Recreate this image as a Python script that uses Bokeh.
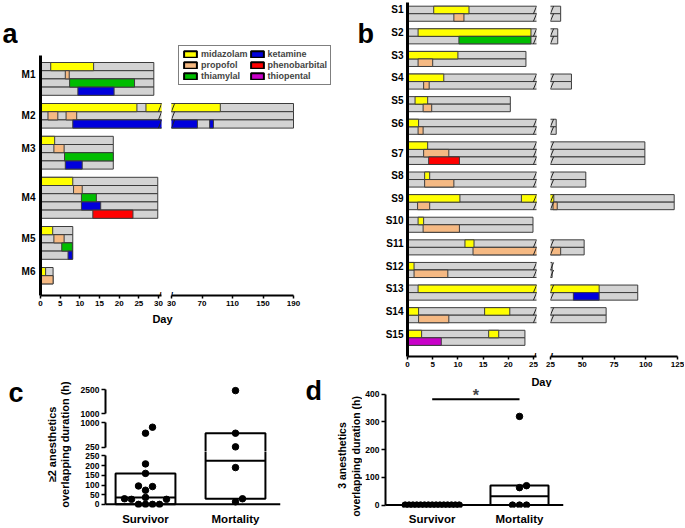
import math
from bokeh.plotting import figure
from bokeh.models import Range1d, FixedTicker, Label, Legend, LegendItem
from bokeh.layouts import row, column
from bokeh.embed import file_html
from bokeh.resources import INLINE

FONT = "Liberation Sans"
GREY = "#D3D3D3"
EDGE = "#3C3C3C"

# ---------------------------------------------------------------- data
drugs = ["midazolam", "propofol", "thiamylal", "ketamine", "phenobarbital", "thiopental"]
drug_colors = ["#FFFF00", "#F5B983", "#00BD00", "#0000DC", "#FF0000", "#C800C8"]

# panel a (mortality cases), days
a_patients = ["M1", "M2", "M3", "M4", "M5", "M6"]
a_total_days = [28.8, 190.0, 18.5, 29.8, 8.2, 3.2]
a_rows = [
    ["midazolam", "propofol", "thiamylal", "ketamine"],
    ["midazolam", "propofol", "ketamine"],
    ["midazolam", "propofol", "thiamylal", "ketamine"],
    ["midazolam", "propofol", "thiamylal", "ketamine", "phenobarbital"],
    ["midazolam", "propofol", "thiamylal", "ketamine"],
    ["midazolam", "propofol"],
]
a_uses = [
    ("M1", "midazolam", 2.6, 13.5), ("M1", "propofol", 6.3, 7.3),
    ("M1", "thiamylal", 7.4, 23.9), ("M1", "ketamine", 9.5, 18.7),
    ("M2", "midazolam", 0.0, 24.5), ("M2", "midazolam", 26.8, 94.0),
    ("M2", "propofol", 1.9, 4.4), ("M2", "propofol", 6.5, 9.2),
    ("M2", "ketamine", 8.2, 64.0), ("M2", "ketamine", 80.0, 85.0),
    ("M3", "midazolam", 0.0, 3.6), ("M3", "propofol", 3.4, 6.0),
    ("M3", "thiamylal", 6.1, 18.5), ("M3", "ketamine", 6.3, 10.6),
    ("M4", "midazolam", 0.0, 8.2), ("M4", "propofol", 8.4, 10.6),
    ("M4", "thiamylal", 10.4, 14.2), ("M4", "ketamine", 10.4, 15.3),
    ("M4", "phenobarbital", 13.3, 23.5),
    ("M5", "midazolam", 0.0, 3.1), ("M5", "propofol", 3.4, 6.0),
    ("M5", "thiamylal", 5.4, 8.1), ("M5", "ketamine", 7.0, 8.1),
    ("M6", "midazolam", 0.0, 1.3), ("M6", "propofol", 0.0, 3.2),
]
a_ticks_left = [0, 5, 10, 15, 20, 25, 30]
a_ticks_right = [30, 70, 110, 150, 190]

# panel b (survivors), days
b_patients = ["S1", "S2", "S3", "S4", "S5", "S6", "S7", "S8", "S9", "S10",
              "S11", "S12", "S13", "S14", "S15"]
b_total_days = [33.0, 30.7, 23.5, 41.5, 20.4, 29.5, 99.3, 52.8, 122.4, 24.9,
                51.5, 26.3, 93.7, 68.8, 23.3]
b_rows = [
    ["midazolam", "propofol"], ["midazolam", "thiamylal"], ["midazolam", "propofol"],
    ["midazolam", "propofol"], ["midazolam", "propofol"], ["midazolam", "propofol"],
    ["midazolam", "propofol", "phenobarbital"], ["midazolam", "propofol"],
    ["midazolam", "propofol"], ["midazolam", "propofol"], ["midazolam", "propofol"],
    ["midazolam", "propofol"], ["midazolam", "ketamine"], ["midazolam", "propofol"],
    ["midazolam", "thiopental"],
]
b_uses = [
    ("S1", "midazolam", 5.2, 12.2), ("S1", "propofol", 9.2, 11.2),
    ("S2", "midazolam", 2.1, 24.5), ("S2", "thiamylal", 10.2, 24.5),
    ("S3", "midazolam", 0.0, 10.0), ("S3", "propofol", 2.1, 5.0),
    ("S4", "midazolam", 0.0, 7.2), ("S4", "propofol", 3.2, 4.3),
    ("S5", "midazolam", 1.5, 4.0), ("S5", "propofol", 3.1, 4.8),
    ("S6", "midazolam", 0.0, 2.2), ("S6", "propofol", 2.1, 3.1),
    ("S7", "midazolam", 0.0, 4.0), ("S7", "propofol", 3.2, 8.2),
    ("S7", "phenobarbital", 4.2, 10.3),
    ("S8", "midazolam", 3.4, 4.4), ("S8", "propofol", 3.4, 9.2),
    ("S9", "midazolam", 0.0, 10.4), ("S9", "midazolam", 22.6, 27.6),
    ("S9", "propofol", 2.0, 4.4), ("S9", "propofol", 27.0, 30.3),
    ("S10", "midazolam", 2.1, 3.2), ("S10", "propofol", 3.1, 10.3),
    ("S11", "midazolam", 11.4, 13.2), ("S11", "propofol", 13.0, 33.0),
    ("S12", "midazolam", 0.0, 1.3), ("S12", "propofol", 1.3, 8.0),
    ("S13", "midazolam", 2.1, 63.3), ("S13", "ketamine", 43.0, 63.3),
    ("S14", "midazolam", 0.0, 2.2), ("S14", "midazolam", 15.3, 20.3),
    ("S14", "propofol", 2.2, 8.2),
    ("S15", "midazolam", 0.0, 2.8), ("S15", "midazolam", 16.1, 18.1),
    ("S15", "thiopental", 0.0, 6.7),
]
b_ticks_left = [0, 5, 10, 15, 20, 25]
b_ticks_right = [25, 50, 75, 100, 125]

# panel c: >=2 anesthetics overlapping duration (h)
groups = ["Survivor", "Mortality"]
c_survivor = [857, 675, 209, 160, 95, 92, 73, 36, 29, 26, 26, 0, 0, 0, 0]
c_mortality = [2430, 675, 260, 190, 29, 13]
c_box_low = [0, 29]
c_box_median = [36, 225]
c_box_high = [160, 675]
c_ticks_top = [1000, 2500]
c_ticks_mid = [250, 1000]
c_ticks_bot = [0, 50, 100, 150, 200, 250]

# panel d: 3 anesthetics overlapping duration (h)
d_survivor = [0, 0, 0, 0, 0, 0, 0, 0, 0, 0, 0, 0, 0, 0, 0]
d_mortality = [320, 70, 63, 0, 0, 0]
d_box_low = [0, 0]
d_box_median = [0, 32]
d_box_high = [0, 71]
d_ticks = [0, 100, 200, 300, 400]
d_sig_y = 382
d_star_y = 364

# ---------------------------------------------------------------- helpers
def lin(anchor):
    (v0, p0), (v1, p1) = anchor
    k = (v1 - v0) / (p1 - p0)
    return lambda p: v0 + (p - p0) * k


def to_px(anchor, v):
    (v0, p0), (v1, p1) = anchor
    return p0 + (v - v0) * (p1 - p0) / (v1 - v0)


def xr(anchor, left, right):
    f = lin(anchor)
    return Range1d(f(left), f(right))


def yr(anchor, top, bottom):
    f = lin(anchor)
    return Range1d(f(bottom), f(top))


def mkfig(canvas, frame, x_range, y_range, xaxis=True, yaxis=True):
    x0, x1, y0, y1 = canvas
    l, r, t, b = frame
    p = figure(width=x1 - x0, height=y1 - y0, x_range=x_range, y_range=y_range,
               min_border_left=l - x0, min_border_right=x1 - r,
               min_border_top=t - y0, min_border_bottom=y1 - b,
               toolbar_location=None, output_backend="svg",
               x_axis_type="linear" if xaxis else None,
               y_axis_type="linear" if yaxis else None)
    p.outline_line_color = None
    p.grid.visible = False
    return p


def blank(x0, x1, y0, y1):
    p = figure(width=x1 - x0, height=y1 - y0, x_range=Range1d(x0, x1),
               y_range=Range1d(y1, y0), min_border=0, toolbar_location=None,
               output_backend="svg", x_axis_type=None, y_axis_type=None)
    p.outline_line_color = None
    return p


def txt(p, x, y, text, size, align="left", baseline="alphabetic", angle=0.0):
    p.add_layout(Label(x=x, y=y, text=text, text_font=FONT, text_font_style="bold",
                       text_font_size=size, text_align=align, text_baseline=baseline,
                       angle=angle, text_color="black"))


def style_axis(ax, size, line_width=2, tick_out=3, standoff=2):
    ax.axis_line_color = "black"
    ax.axis_line_width = line_width
    ax.major_tick_line_color = "black"
    ax.major_tick_line_width = 1.5
    ax.major_tick_in = 0
    ax.major_tick_out = tick_out
    ax.minor_tick_line_color = None
    ax.major_label_text_font = FONT
    ax.major_label_text_font_style = "bold"
    ax.major_label_text_font_size = size
    ax.major_label_text_color = "black"
    ax.major_label_standoff = standoff


def build_bars(patients, totals, rows, uses):
    starts, y = {}, 0
    for pat, r in zip(patients, rows):
        starts[pat] = y
        y += len(r) + 1
    label_pos = [starts[pat] + (len(r) - 1) // 2 + 0.5 for pat, r in zip(patients, rows)]
    bg = dict(left=[], right=[], top=[], bottom=[])
    for pat, r, tot in zip(patients, rows, totals):
        for k in range(len(r)):
            bg["left"].append(0)
            bg["right"].append(tot)
            bg["top"].append(starts[pat] + k)
            bg["bottom"].append(starts[pat] + k + 1)
    per = {d: dict(left=[], right=[], top=[], bottom=[]) for d in drugs}
    for pat, d, s, e in uses:
        k = rows[patients.index(pat)].index(d)
        per[d]["left"].append(s)
        per[d]["right"].append(e)
        per[d]["top"].append(starts[pat] + k)
        per[d]["bottom"].append(starts[pat] + k + 1)
    return label_pos, bg, per


def keep(src, min_right):
    idx = [i for i, r in enumerate(src["right"]) if r > min_right]
    return {k: [v[i] for i in idx] for k, v in src.items()}


def draw_bars(p, bg, per, min_right=-1e9):
    g = keep(bg, min_right)
    p.quad(left=g["left"], right=g["right"], top=g["top"], bottom=g["bottom"],
           fill_color=GREY, line_color=EDGE, line_width=1)
    for d, col in zip(drugs, drug_colors):
        s = keep(per[d], min_right)
        if s["left"]:
            p.quad(left=s["left"], right=s["right"], top=s["top"], bottom=s["bottom"],
                   fill_color=col, line_color=EDGE, line_width=1)


def bar_breaks(p, bg, brk, at_px, px_per_unit):
    # slanted marks where bars run into the axis break
    g = keep(bg, brk)
    xc = at_px / px_per_unit
    dx = 1.6 / px_per_unit
    p.segment(x0=[xc - dx] * len(g["top"]), x1=[xc + dx] * len(g["top"]),
              y0=g["bottom"], y1=g["top"], line_color="#222222", line_width=1)


def break_mark(p, x):
    # small slash on the x axis where the axis is broken
    p.add_layout(Label(x=x, y=p.y_range.start, text="/", text_font=FONT,
                       text_font_style="bold", text_font_size="11px",
                       text_align="center", text_baseline="middle", text_color="black"))


def swarm(values, px_of, step=7.0, max_half=27.0):
    order = sorted(range(len(values)), key=lambda i: values[i])
    placed, off = [], [0.0] * len(values)
    for i in order:
        py = px_of(values[i])
        m = 0
        while True:
            cand = 0.0 if m == 0 else math.ceil(m / 2) * step * (1 if m % 2 else -1)
            if all((cand - qx) ** 2 + (py - qy) ** 2 >= step * step - 1e-6 for qx, qy in placed):
                break
            m += 1
        placed.append((cand, py))
        off[i] = cand
    w = max(abs(o) for o in off)
    if w > max_half:
        off = [o * max_half / w for o in off]
    return off

# ---------------------------------------------------------------- panel a
a_y_anchor = ((0, 62), (28, 291.6))
a1_x_anchor = ((0, 38), (30, 158))
a2_x_anchor = ((30, 171), (190, 293))
a_lab, a_bg, a_per = build_bars(a_patients, a_total_days, a_rows, a_uses)
b_lab, b_bg, b_per = build_bars(b_patients, b_total_days, b_rows, b_uses)

a_left = blank(0, 18, 0, 309)
txt(a_left, 2, 33, "a", "27px")
a1 = mkfig((18, 165, 0, 309), (38, 161, 55, 295),
           xr(a1_x_anchor, 38, 161), yr(a_y_anchor, 55, 295))
a2 = mkfig((165, 348, 0, 309), (171, 345, 40, 295),
           xr(a2_x_anchor, 171, 345), yr(a_y_anchor, 40, 295), yaxis=False)
draw_bars(a1, a_bg, a_per)
draw_bars(a2, a_bg, a_per, min_right=a_ticks_right[0])
a1_ppu = 120 / 30
a2_ppu = 122 / 160
a1.segment  # noqa
bar_breaks(a1, a_bg, a_ticks_right[0], (a1.x_range.end * a1_ppu) - 1.5, a1_ppu)
bar_breaks(a2, a_bg, a_ticks_right[0], a_ticks_right[0] * a2_ppu + 1.5, a2_ppu)
style_axis(a1.xaxis[0], "8px")
a1.xaxis.ticker = FixedTicker(ticks=a_ticks_left)
style_axis(a2.xaxis[0], "8px")
a2.xaxis.ticker = FixedTicker(ticks=a_ticks_right)
a2.xaxis.bounds = (a_ticks_right[0], a_ticks_right[-1])
style_axis(a1.yaxis[0], "10px", line_width=3, tick_out=0, standoff=5)
a1.yaxis.ticker = FixedTicker(ticks=a_lab)
a1.yaxis.major_label_overrides = {v: n for v, n in zip(a_lab, a_patients)}
a1.yaxis.major_tick_line_color = None
break_mark(a1, a1.x_range.end - 0.3)
break_mark(a2, a_ticks_right[0])

items = []
for d, col in zip(drugs, drug_colors):
    src = a_per[d] if a_per[d]["left"] else b_per[d]
    r = a2.quad(left=src["left"], right=src["right"], top=src["top"], bottom=src["bottom"],
                fill_color=col, line_color="black", line_width=2, visible=False)
    items.append(LegendItem(label=d, renderers=[r]))
legend = Legend(items=items, location=(7, 210), orientation="vertical", nrows=3,
                margin=0, padding=3, spacing=1, label_standoff=3,
                glyph_width=16, glyph_height=8, label_height=9,
                label_text_font=FONT, label_text_font_style="bold",
                label_text_font_size="9px", border_line_color="black",
                border_line_width=1.5, background_fill_color="white",
                background_fill_alpha=1.0)
a2.add_layout(legend)

a_day = blank(0, 348, 309, 362)
txt(a_day, 162, 318, "Day", "11px", align="center")

# ---------------------------------------------------------------- panel b
b_y_anchor = ((0, 5.7), (43, 330.7))
b1_x_anchor = ((0, 407), (25, 533))
b2_x_anchor = ((25, 550), (125, 677))

b1 = mkfig((380, 542, 0, 369), (407, 536, 2, 357),
           xr(b1_x_anchor, 407, 536), yr(b_y_anchor, 2, 357))
b2 = mkfig((542, 684, 0, 369), (550, 678, 2, 357),
           xr(b2_x_anchor, 550, 678), yr(b_y_anchor, 2, 357), yaxis=False)
draw_bars(b1, b_bg, b_per)
draw_bars(b2, b_bg, b_per, min_right=b_ticks_right[0])
b1_ppu = 126 / 25
b2_ppu = 127 / 100
bar_breaks(b1, b_bg, b_ticks_right[0], (b1.x_range.end * b1_ppu) - 1.5, b1_ppu)
bar_breaks(b2, b_bg, b_ticks_right[0], b_ticks_right[0] * b2_ppu + 1.5, b2_ppu)
style_axis(b1.xaxis[0], "8px")
b1.xaxis.ticker = FixedTicker(ticks=b_ticks_left)
style_axis(b2.xaxis[0], "8px")
b2.xaxis.ticker = FixedTicker(ticks=b_ticks_right)
b2.xaxis.bounds = (b_ticks_right[0], b_ticks_right[-1])
style_axis(b1.yaxis[0], "10px", line_width=3, tick_out=0, standoff=4)
b1.yaxis.ticker = FixedTicker(ticks=b_lab)
b1.yaxis.major_label_overrides = {v: n for v, n in zip(b_lab, b_patients)}
b1.yaxis.major_tick_line_color = None
break_mark(b1, b1.x_range.end - 0.3)
break_mark(b2, b_ticks_right[0] + 0.8)

b_left = blank(348, 380, 0, 369)
txt(b_left, 357, 33, "b", "27px")
b_day = blank(348, 684, 369, 387)
txt(b_day, 541, 381, "Day", "11px", align="center")

# ---------------------------------------------------------------- panel c
c_x_anchor = ((0, 145), (1, 235))
c_seg_anchor = [((1000, 413), (2500, 389)), ((250, 446.7), (1000, 422)),
                ((0, 506.7), (250, 455.7))]
c_seg_bounds = [(1000, 2500), (250, 1000), (0, 250)]
c_seg_ticks = [c_ticks_top, c_ticks_mid, c_ticks_bot]
c_canvas = [(72, 290, 362, 418), (72, 290, 418, 451), (72, 290, 451, 527)]
c_frame = [(105, 280, 384, 418), (105, 280, 418, 451), (105, 280, 451, 510)]
BOX_W = 0.665


def c_seg_of(v):
    return 0 if v > 1000 else (1 if v > 250 else 2)


def c_px(v):
    return to_px(c_seg_anchor[c_seg_of(v)], v)


c_px_per_x = (c_x_anchor[1][1] - c_x_anchor[0][1]) / (c_x_anchor[1][0] - c_x_anchor[0][0])
c_vals = [c_survivor, c_mortality]
c_xs = []
for gi, vals in enumerate(c_vals):
    offs = swarm(vals, c_px)
    c_xs.append([gi + o / c_px_per_x for o in offs])

c_figs = []
for si in range(3):
    last = si == 2
    fl, fr, ft, fb = c_frame[si]
    p = mkfig(c_canvas[si], c_frame[si], xr(c_x_anchor, fl, fr),
              yr(c_seg_anchor[si], ft, fb), xaxis=last)
    lo, hi = c_seg_bounds[si]
    rs, re = p.y_range.start, p.y_range.end
    span = re - rs
    for gi in range(2):
        bl, bm, bh = c_box_low[gi], c_box_median[gi], c_box_high[gi]
        if not (bh < lo or bl > hi):
            bot = bl if bl >= lo else rs - span
            top = bh if bh <= hi else re + span
            p.quad(left=[gi - BOX_W / 2], right=[gi + BOX_W / 2], bottom=[bot], top=[top],
                   fill_color="white", line_color="black", line_width=2)
        if lo <= bm <= hi:
            p.segment(x0=[gi - BOX_W / 2], x1=[gi + BOX_W / 2], y0=[bm], y1=[bm],
                      line_color="black", line_width=2)
    if last:
        p.segment(x0=[p.x_range.start], x1=[p.x_range.end], y0=[0], y1=[0],
                  line_color="black", line_width=2)
    for gi in range(2):
        xs = [x for x, v in zip(c_xs[gi], c_vals[gi]) if c_seg_of(v) == si]
        ys = [v for v in c_vals[gi] if c_seg_of(v) == si]
        if xs:
            p.scatter(xs, ys, size=6.5, color="black")
    style_axis(p.yaxis[0], "8.5px", tick_out=4, standoff=2)
    p.yaxis.ticker = FixedTicker(ticks=c_seg_ticks[si])
    p.yaxis.bounds = c_seg_bounds[si]
    if last:
        style_axis(p.xaxis[0], "11.5px", standoff=2)
        p.xaxis.ticker = FixedTicker(ticks=[0, 1])
        p.xaxis.major_label_overrides = {0: groups[0], 1: groups[1]}
        p.xaxis.major_tick_line_color = None
        p.xaxis.axis_line_color = None
    c_figs.append(p)

c_left = blank(0, 72, 362, 527)
txt(c_left, 8, 392, "c", "27px")
txt(c_left, 51, 444, "\u22652 anesthetics", "11px", align="center", baseline="middle",
    angle=math.pi / 2)
txt(c_left, 64, 444, "overlapping duration (h)", "11px", align="center", baseline="middle",
    angle=math.pi / 2)
c_right = blank(290, 348, 362, 527)
txt(c_right, 305, 390, "d", "27px")
txt(c_right, 341, 455, "3 anesthetics", "10.5px", align="center", baseline="middle",
    angle=math.pi / 2)

# ---------------------------------------------------------------- panel d
d_x_anchor = ((0, 431.7), (1, 519))
d_y_anchor = ((0, 509.5), (400, 394))
d_fig = mkfig((362, 684, 387, 527), (385, 563, 387, 512),
              xr(d_x_anchor, 385, 563), yr(d_y_anchor, 387, 512))
d_px_per_x = (d_x_anchor[1][1] - d_x_anchor[0][1]) / (d_x_anchor[1][0] - d_x_anchor[0][0])
d_vals = [d_survivor, d_mortality]
for gi in range(2):
    d_fig.quad(left=[gi - BOX_W / 2], right=[gi + BOX_W / 2], bottom=[d_box_low[gi]],
               top=[d_box_high[gi]], fill_color="white", line_color="black", line_width=2)
    d_fig.segment(x0=[gi - BOX_W / 2], x1=[gi + BOX_W / 2], y0=[d_box_median[gi]],
                  y1=[d_box_median[gi]], line_color="black", line_width=2)
d_fig.segment(x0=[d_fig.x_range.start], x1=[d_fig.x_range.end], y0=[0], y1=[0],
              line_color="black", line_width=2)
for gi, vals in enumerate(d_vals):
    offs = swarm(vals, lambda v: to_px(d_y_anchor, v))
    d_fig.scatter([gi + o / d_px_per_x for o in offs], vals, size=6.5, color="black")
d_fig.segment(x0=[0], x1=[1], y0=[d_sig_y], y1=[d_sig_y], line_color="black", line_width=2)
d_fig.add_layout(Label(x=0.5, y=d_star_y, text="*", text_font=FONT, text_font_style="bold",
                       text_font_size="16px", text_align="center"))
style_axis(d_fig.yaxis[0], "8.5px", tick_out=4, standoff=2)
d_fig.yaxis.ticker = FixedTicker(ticks=d_ticks)
d_fig.yaxis.bounds = (d_ticks[0], d_ticks[-1])
style_axis(d_fig.xaxis[0], "11.5px", standoff=2)
d_fig.xaxis.ticker = FixedTicker(ticks=[0, 1])
d_fig.xaxis.major_label_overrides = {0: groups[0], 1: groups[1]}
d_fig.xaxis.major_tick_line_color = None
d_fig.xaxis.axis_line_color = None

d_left = blank(348, 362, 387, 527)
txt(d_left, 355.5, 456, "overlapping duration (h)", "10.5px", align="center",
    baseline="middle", angle=math.pi / 2)

# ---------------------------------------------------------------- layout
# every plot sits in its own column, so that bokeh does not line up the
# borders of neighbouring plots
left_col = column(row(column(a_left), column(a1), column(a2)), a_day,
                  row(column(c_left), column(*c_figs), column(c_right)))
right_col = column(row(column(b_left), column(b1), column(b2)), b_day,
                   row(column(d_left), column(d_fig)))
root = row(left_col, right_col)

open("out.html", "w").write(file_html(root, INLINE))
